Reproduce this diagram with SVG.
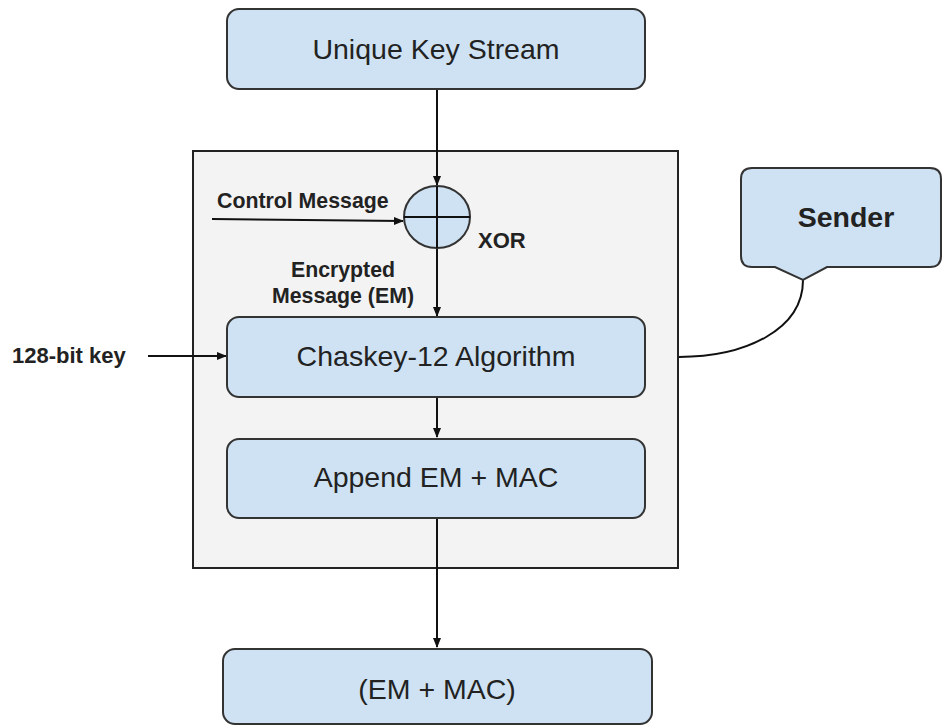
<svg xmlns="http://www.w3.org/2000/svg" width="943" height="726" viewBox="0 0 943 726">
<style>
.box{fill:#cfe2f3;stroke:#333;stroke-width:2}
.t{font-family:"Liberation Sans",Arial,sans-serif;font-size:28.5px;fill:#222;text-anchor:middle}
.b{font-family:"Liberation Sans",Arial,sans-serif;font-size:21.3px;font-weight:bold;fill:#222}
.ln{stroke:#111;stroke-width:2;fill:none}
</style>
<defs>
<marker id="ah" markerWidth="10" markerHeight="10" refX="9" refY="5" orient="auto" markerUnits="userSpaceOnUse">
<path d="M0,1 L10,5 L0,9 Z" fill="#111"/>
</marker>
</defs>
<rect width="943" height="726" fill="#fff"/>
<g id="container">
<rect x="193" y="151" width="485" height="417" fill="#f3f3f3" stroke="#222" stroke-width="2"/>
</g>
<g id="connectors">
<line class="ln" x1="437" y1="89" x2="437" y2="185" marker-end="url(#ah)"/>
<line class="ln" x1="212" y1="219" x2="403" y2="221" marker-end="url(#ah)"/>
<line class="ln" x1="437" y1="248" x2="437" y2="316" marker-end="url(#ah)"/>
<line class="ln" x1="148" y1="356" x2="226" y2="356" marker-end="url(#ah)"/>
<line class="ln" x1="437" y1="397" x2="437" y2="437" marker-end="url(#ah)"/>
<line class="ln" x1="437" y1="518" x2="437" y2="647" marker-end="url(#ah)"/>
<path class="ln" d="M803,280 C803,330 745,357 679,357" stroke-width="1.5"/>
</g>
<g id="unique-key-stream">
<rect class="box" x="227" y="9" width="418" height="80" rx="12"/>
<text class="t" x="436" y="59">Unique Key Stream</text>
</g>
<g id="xor">
<ellipse cx="437" cy="217" rx="33" ry="31" fill="#cfe2f3" stroke="#333" stroke-width="2"/>
<line class="ln" x1="404" y1="217" x2="470" y2="217"/>
<line class="ln" x1="437" y1="186" x2="437" y2="248"/>
<text class="b" x="478" y="248" style="font-size:22px">XOR</text>
</g>
<g id="control-message">
<text class="b" x="217" y="208">Control Message</text>
</g>
<g id="em-label">
<text class="b" x="343" y="277" text-anchor="middle">Encrypted</text>
<text class="b" x="343" y="303" text-anchor="middle">Message (EM)</text>
</g>
<g id="key-label">
<text class="b" x="12" y="363" style="font-size:22px">128-bit key</text>
</g>
<g id="chaskey">
<rect class="box" x="227" y="317" width="418" height="80" rx="12"/>
<text class="t" x="436" y="366">Chaskey-12 Algorithm</text>
</g>
<g id="append">
<rect class="box" x="227" y="439" width="418" height="79" rx="12"/>
<text class="t" x="436" y="487">Append EM + MAC</text>
</g>
<g id="output">
<rect class="box" x="223" y="649" width="429" height="75" rx="12"/>
<text class="t" x="437" y="699">(EM + MAC)</text>
</g>
<g id="sender">
<path class="box" d="M752,168 H930 Q941,168 941,179 V256 Q941,267 930,267 H827 L803,280 L775,267 H752 Q741,267 741,256 V179 Q741,168 752,168 Z"/>
<text class="b" x="846" y="227" text-anchor="middle" style="font-size:28.5px">Sender</text>
</g>
</svg>
